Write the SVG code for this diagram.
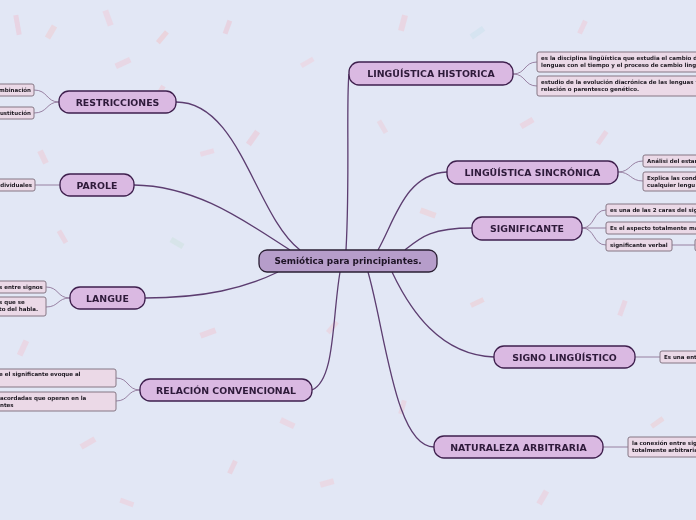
<svg xmlns="http://www.w3.org/2000/svg" width="696" height="520" viewBox="0 0 696 520">
<defs>
<style>
.bg{fill:#e2e7f5}
.cf{opacity:0.4}
.main rect{fill:#dab9e2;stroke:#3e1f4d;stroke-width:1.3}
.main text{font-family:"DejaVu Sans",Verdana,sans-serif;font-weight:bold;font-size:9.4px;fill:#2e1a3a;text-anchor:middle}
.root rect{fill:#b69dca;stroke:#2a1f33;stroke-width:1.3}
.root text{font-family:"DejaVu Sans",Verdana,sans-serif;font-weight:bold;font-size:8.9px;fill:#1e1426;text-anchor:middle}
.sub rect{fill:#ebd9e7;stroke:#857684;stroke-width:1}
.sub text{font-family:"DejaVu Sans",Verdana,sans-serif;font-weight:bold;font-size:5.5px;fill:#1a161e}
.sub text.r{text-anchor:end}
.c1{fill:none;stroke:#5c3d70;stroke-width:1.3}
.c2{fill:none;stroke:#8e7599;stroke-width:0.9}
</style>
</defs>
<rect class="bg" x="0" y="0" width="696" height="520"/>
<g id="confetti" class="cf">
<rect x="15" y="15" width="5" height="20" fill="#f2b8c8" transform="rotate(-10 17 25)"/>
<rect x="48" y="25" width="6" height="14" fill="#f6c2c2" transform="rotate(30 51 32)"/>
<rect x="105" y="10" width="6" height="16" fill="#f4c4d0" transform="rotate(-20 108 18)"/>
<rect x="160" y="30" width="5" height="14" fill="#f7b8b8" transform="rotate(40 162 37)"/>
<rect x="115" y="60" width="16" height="6" fill="#f3c0cc" transform="rotate(-25 123 63)"/>
<rect x="158" y="85" width="5" height="12" fill="#f5bcc6" transform="rotate(30 160 91)"/>
<rect x="225" y="20" width="5" height="14" fill="#f0b7c4" transform="rotate(20 227 27)"/>
<rect x="300" y="60" width="14" height="5" fill="#f5c9d2" transform="rotate(-30 307 62)"/>
<rect x="400" y="15" width="6" height="16" fill="#f4bfc9" transform="rotate(15 403 23)"/>
<rect x="470" y="30" width="15" height="6" fill="#c6e0ea" transform="rotate(-35 477 33)"/>
<rect x="580" y="20" width="5" height="14" fill="#f4c0cc" transform="rotate(25 582 27)"/>
<rect x="640" y="60" width="14" height="5" fill="#f6c5c5" transform="rotate(-20 647 62)"/>
<rect x="250" y="130" width="6" height="16" fill="#f2bac6" transform="rotate(35 253 138)"/>
<rect x="200" y="150" width="14" height="5" fill="#f5c4d0" transform="rotate(-15 207 152)"/>
<rect x="380" y="120" width="5" height="14" fill="#f0c6cf" transform="rotate(-30 382 127)"/>
<rect x="420" y="210" width="16" height="6" fill="#f7c3c3" transform="rotate(20 428 213)"/>
<rect x="60" y="230" width="5" height="14" fill="#f2bdc9" transform="rotate(-30 62 237)"/>
<rect x="170" y="240" width="14" height="6" fill="#c8e2d8" transform="rotate(30 177 243)"/>
<rect x="20" y="340" width="6" height="16" fill="#f4c0cc" transform="rotate(25 23 348)"/>
<rect x="200" y="330" width="16" height="6" fill="#f5bec8" transform="rotate(-20 208 333)"/>
<rect x="330" y="320" width="5" height="14" fill="#f2c3cb" transform="rotate(40 332 327)"/>
<rect x="470" y="300" width="14" height="5" fill="#f6c0c0" transform="rotate(-25 477 302)"/>
<rect x="620" y="300" width="5" height="16" fill="#f3bfcb" transform="rotate(20 622 308)"/>
<rect x="80" y="440" width="16" height="6" fill="#f5c0ca" transform="rotate(-30 88 443)"/>
<rect x="230" y="460" width="5" height="14" fill="#f2bcc6" transform="rotate(25 232 467)"/>
<rect x="320" y="480" width="14" height="6" fill="#f6c6ce" transform="rotate(-15 327 483)"/>
<rect x="540" y="490" width="6" height="15" fill="#f3c1cd" transform="rotate(30 543 497)"/>
<rect x="650" y="420" width="14" height="5" fill="#f4c2c2" transform="rotate(-35 657 422)"/>
<rect x="400" y="400" width="5" height="14" fill="#f1c0ca" transform="rotate(15 402 407)"/>
<rect x="120" y="500" width="14" height="5" fill="#f5c2cc" transform="rotate(20 127 502)"/>
<rect x="520" y="120" width="14" height="6" fill="#f4c0ca" transform="rotate(-30 527 123)"/>
<rect x="600" y="130" width="5" height="15" fill="#f2bcc8" transform="rotate(35 602 137)"/>
<rect x="280" y="420" width="15" height="6" fill="#f5c3cc" transform="rotate(25 287 423)"/>
<rect x="40" y="150" width="6" height="14" fill="#f3c0c8" transform="rotate(-25 43 157)"/>
</g>
<g id="connectors">
<path class="c1" d="M346 250 C350 180 346 100 349 74"/>
<path class="c1" d="M176 102 C240 102 255 215 300 250"/>
<path class="c1" d="M134 185 C200 186 250 225 290 250"/>
<path class="c1" d="M145 298 C205 298 245 288 278 272"/>
<path class="c1" d="M312 390 C335 380 332 320 340 272"/>
<path class="c1" d="M447 172 C405 174 395 220 378 250"/>
<path class="c1" d="M472 228 C430 228 420 238 405 250"/>
<path class="c1" d="M494 357 C440 355 410 310 392 272"/>
<path class="c1" d="M434 447 C395 447 385 330 368 272"/>
<path class="c2" d="M59 102 C46 102 48 90 34 90"/>
<path class="c2" d="M59 102 C46 102 48 113 34 113"/>
<path class="c2" d="M60 185 L35 185"/>
<path class="c2" d="M70 298 C57 298 59 287 46 287"/>
<path class="c2" d="M70 298 C57 298 59 307 46 307"/>
<path class="c2" d="M140 390 C127 390 129 378 116 378"/>
<path class="c2" d="M140 390 C127 390 129 401 116 401"/>
<path class="c2" d="M513 74 C526 74 524 62 537 62"/>
<path class="c2" d="M513 74 C526 74 524 86 537 86"/>
<path class="c2" d="M618 172 C631 172 630 161 643 161"/>
<path class="c2" d="M618 172 C631 172 630 181 643 181"/>
<path class="c2" d="M582 228 C595 228 593 210 606 210"/>
<path class="c2" d="M582 228 L606 228"/>
<path class="c2" d="M582 228 C595 228 593 245 606 245"/>
<path class="c2" d="M672 245 L696 245"/>
<path class="c2" d="M635 357 L660 357"/>
<path class="c2" d="M603 447 L628 447"/>
</g>
<g id="root" class="root">
<rect x="259" y="250" width="178" height="22" rx="8"/>
<text x="348" y="264.2">Semiótica para principiantes.</text>
</g>
<g id="n-historica" class="main">
<rect x="349" y="62" width="164" height="23" rx="10"/>
<text x="431" y="77">LINGÜÍSTICA HISTORICA</text>
</g>
<g id="n-restricciones" class="main">
<rect x="59" y="91" width="117" height="22" rx="10"/>
<text x="117.5" y="105.5">RESTRICCIONES</text>
</g>
<g id="n-parole" class="main">
<rect x="60" y="174" width="74" height="22" rx="10"/>
<text x="97" y="188.5">PAROLE</text>
</g>
<g id="n-sincronica" class="main">
<rect x="447" y="161" width="171" height="23" rx="10"/>
<text x="532.5" y="175.5">LINGÜÍSTICA SINCRÓNICA</text>
</g>
<g id="n-significante" class="main">
<rect x="472" y="217" width="110" height="23" rx="10"/>
<text x="527" y="231.5">SIGNIFICANTE</text>
</g>
<g id="n-langue" class="main">
<rect x="70" y="287" width="75" height="22" rx="10"/>
<text x="107.5" y="301.5">LANGUE</text>
</g>
<g id="n-signo" class="main">
<rect x="494" y="346" width="141" height="22" rx="10"/>
<text x="564.5" y="360.5">SIGNO LINGÜÍSTICO</text>
</g>
<g id="n-relacion" class="main">
<rect x="140" y="379" width="172" height="22" rx="10"/>
<text x="226" y="393.5">RELACIÓN CONVENCIONAL</text>
</g>
<g id="n-naturaleza" class="main">
<rect x="434" y="436" width="169" height="22" rx="10"/>
<text x="518.5" y="450.5">NATURALEZA ARBITRARIA</text>
</g>
<g id="s-combinacion" class="sub">
<rect x="-10" y="84" width="44" height="12" rx="2"/>
<text class="r" x="31" y="92">mbinación</text>
</g>
<g id="s-sustitucion" class="sub">
<rect x="-10" y="107" width="44" height="12" rx="2"/>
<text class="r" x="31" y="115">ustitución</text>
</g>
<g id="s-individuales" class="sub">
<rect x="-10" y="179" width="45" height="12" rx="2"/>
<text class="r" x="32" y="187">dividuales</text>
</g>
<g id="s-langue1" class="sub">
<rect x="-10" y="281" width="56" height="12" rx="2"/>
<text x="-1" y="289">s entre signos</text>
</g>
<g id="s-langue2" class="sub">
<rect x="-10" y="297" width="56" height="19" rx="2"/>
<text x="-1" y="304">s que se</text>
<text x="-1" y="311">to del habla.</text>
</g>
<g id="s-relacion1" class="sub">
<rect x="-10" y="369" width="126" height="18" rx="2"/>
<text x="-1" y="376">e el significante evoque al</text>
</g>
<g id="s-relacion2" class="sub">
<rect x="-10" y="392" width="126" height="19" rx="2"/>
<text x="0" y="399.5">acordadas que operan en la</text>
<text x="0" y="406.5">ntes</text>
</g>
<g id="s-historica1" class="sub">
<rect x="537" y="52" width="170" height="20" rx="2"/>
<text x="541" y="59.5">es la disciplina lingüística que estudia el cambio d</text>
<text x="541" y="66.5">lenguas con el tiempo y el proceso de cambio ling</text>
</g>
<g id="s-historica2" class="sub">
<rect x="537" y="76" width="170" height="20" rx="2"/>
<text x="541" y="83.5">estudio de la evolución diacrónica de las lenguas y</text>
<text x="541" y="90.5">relación o parentesco genético.</text>
</g>
<g id="s-sincronica1" class="sub">
<rect x="643" y="155" width="60" height="12" rx="2"/>
<text x="647" y="163">Análisi del estar</text>
</g>
<g id="s-sincronica2" class="sub">
<rect x="643" y="172" width="60" height="19" rx="2"/>
<text x="647" y="179.5">Explica las cond</text>
<text x="647" y="186.5">cualquier lengu</text>
</g>
<g id="s-significante1" class="sub">
<rect x="606" y="204" width="100" height="12" rx="2"/>
<text x="610" y="212">es una de las 2 caras del sig</text>
</g>
<g id="s-significante2" class="sub">
<rect x="606" y="222" width="100" height="12" rx="2"/>
<text x="610" y="230">Es el aspecto totalmente ma</text>
</g>
<g id="s-verbal" class="sub">
<rect x="606" y="239" width="66" height="12" rx="2"/>
<text x="610" y="247">significante verbal</text>
</g>
<g id="s-verbal-child" class="sub">
<rect x="695" y="239" width="20" height="12" rx="2"/>
</g>
<g id="s-signo" class="sub">
<rect x="660" y="351" width="50" height="12" rx="2"/>
<text x="664" y="359">Es una ent</text>
</g>
<g id="s-naturaleza" class="sub">
<rect x="628" y="437" width="80" height="20" rx="2"/>
<text x="632" y="444.5">la conexión entre sig</text>
<text x="632" y="451.5">totalmente arbitraria</text>
</g>
</svg>
